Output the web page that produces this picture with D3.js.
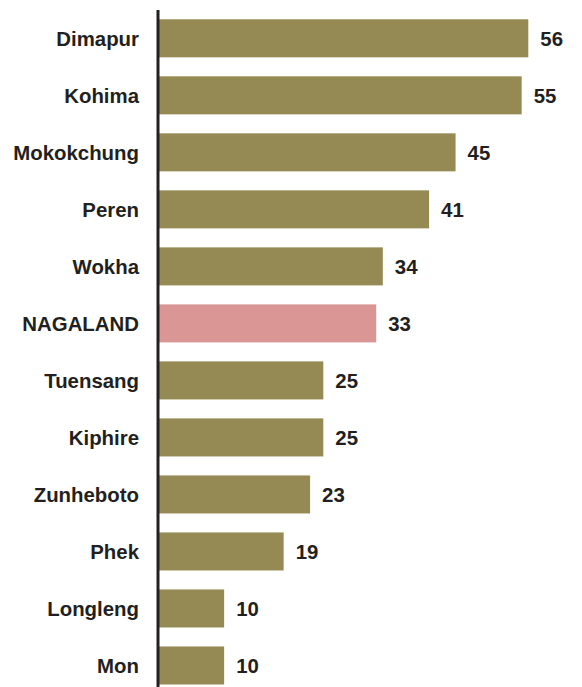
<!DOCTYPE html>
<html>
<head>
<meta charset="utf-8">
<script src="https://cdn.jsdelivr.net/npm/d3@7"></script>
<style>
  body { margin: 0; background: #fff; }
  svg { display: block; }
  .cat-label, .val-label {
    font-family: "Liberation Sans", Arial, Helvetica, sans-serif;
    font-weight: bold;
    font-size: 20.4px;
    fill: #231f20;
  }
</style>
</head>
<body>
<svg width="582" height="687"></svg>
<script>
// districts, sorted as in the source chart
const districts = ['Dimapur', 'Kohima', 'Mokokchung', 'Peren', 'Wokha', 'NAGALAND',
  'Tuensang', 'Kiphire', 'Zunheboto', 'Phek', 'Longleng', 'Mon'];
const values = [56, 55, 45, 41, 34, 33, 25, 25, 23, 19, 10, 10];
const highlight = ['NAGALAND'];

const width = 582;
const height = 687;
const x0 = 158;

const data = districts.map((d, i) => ({ name: d, value: values[i] }));

const svg = d3.select('svg');

const x = d3.scaleLinear()
    .domain([0, 56])
    .range([x0, 528.3]);

const y = d3.scaleBand()
    .domain(districts)
    .range([19.3, 684.5])
    .paddingInner(0.333)
    .paddingOuter(0);

svg.append('g')
    .selectAll('rect')
    .data(data)
    .enter().append('rect')
    .attr('x', x(0))
    .attr('y', d => y(d.name))
    .attr('width', d => x(d.value) - x(0))
    .attr('height', y.bandwidth())
    .attr('fill', d => highlight.indexOf(d.name) !== -1 ? '#da9595' : '#958a54');

// vertical axis line
svg.append('line')
    .attr('x1', 158)
    .attr('x2', 158)
    .attr('y1', 10)
    .attr('y2', height)
    .attr('stroke', '#231f20')
    .attr('stroke-width', 3);

svg.append('g')
    .selectAll('text')
    .data(data)
    .enter().append('text')
    .classed('cat-label', true)
    .attr('x', 139)
    .attr('y', d => y(d.name) + y.bandwidth() / 2)
    .attr('dy', '0.36em')
    .attr('text-anchor', 'end')
    .text(d => d.name);

svg.append('g')
    .selectAll('text')
    .data(data)
    .enter().append('text')
    .classed('val-label', true)
    .attr('x', d => x(d.value) + 12)
    .attr('y', d => y(d.name) + y.bandwidth() / 2)
    .attr('dy', '0.36em')
    .text(d => d.value);
</script>
</body>
</html>
